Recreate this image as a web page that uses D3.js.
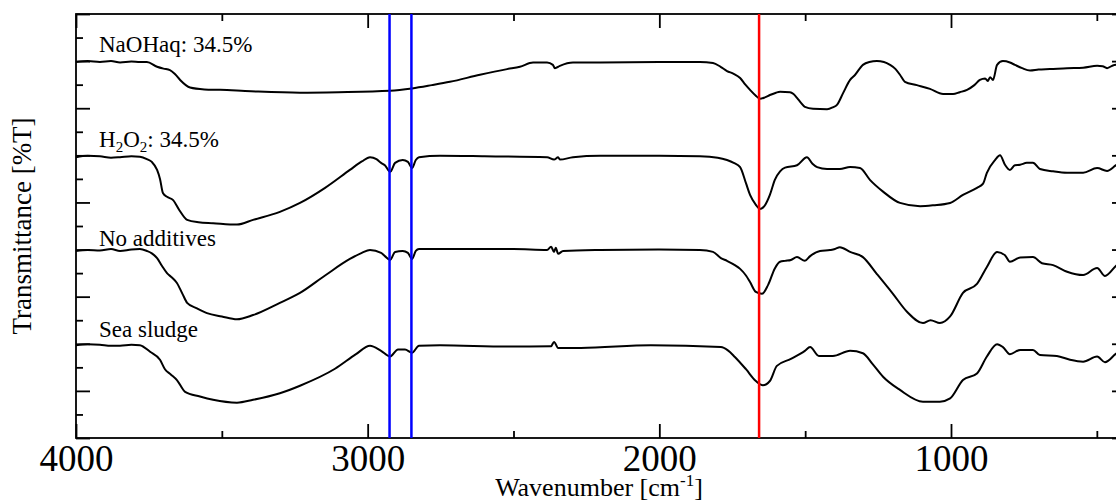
<!DOCTYPE html>
<html>
<head>
<meta charset="utf-8">
<script src="https://cdn.jsdelivr.net/npm/d3@7"></script>
<style>
  html, body { margin: 0; padding: 0; background: #fff; }
  svg { display: block; }
  svg text { font-family: "Liberation Serif", "Times New Roman", serif; }
</style>
</head>
<body>
<script>
// spectra: [wavenumber cm-1, transmittance (offset, a.u.)]
const naohaq = [
    [4000, 79.8], [3960, 80.0], [3918, 79.8], [3880, 80.0], [3849, 79.7], [3810, 79.9], [3781, 79.8],
    [3757, 79.8], [3722, 78.8], [3700, 78.4], [3678, 78.1], [3660, 77.2], [3643, 76.0], [3609, 74.4],
    [3560, 74.0], [3506, 73.9], [3400, 73.6], [3232, 73.3], [3100, 73.4], [2923, 73.7], [2848, 74.2],
    [2780, 74.9], [2718, 75.6], [2615, 77.1], [2522, 78.3], [2478, 78.8], [2433, 79.7], [2385, 79.7],
    [2365, 79.2], [2358, 78.5], [2341, 79.0], [2296, 79.7], [2203, 79.7], [2000, 79.8], [1861, 79.8],
    [1816, 79.6], [1790, 78.8], [1768, 77.9], [1745, 77.3], [1723, 76.4], [1705, 75.0], [1689, 73.9],
    [1670, 72.7], [1655, 72.0], [1638, 72.3], [1621, 72.8], [1600, 73.3], [1586, 73.5], [1552, 73.4],
    [1540, 73.0], [1528, 72.2], [1515, 71.2], [1501, 70.3], [1473, 69.9], [1425, 69.8], [1405, 70.2],
    [1391, 70.7], [1370, 73.2], [1346, 76.0], [1330, 77.0], [1302, 79.2], [1280, 79.8], [1254, 80.0],
    [1230, 79.8], [1209, 79.2], [1190, 78.3], [1175, 77.1], [1158, 75.6], [1117, 74.9], [1072, 74.1],
    [1027, 73.0], [993, 73.0], [970, 73.4], [945, 73.9], [920, 74.9], [901, 76.0], [883, 76.3],
    [874, 75.8], [866, 76.6], [856, 76.0], [842, 79.2], [822, 80.0], [798, 79.7], [781, 79.2],
    [756, 78.5], [729, 78.0], [700, 78.2], [661, 78.3], [602, 78.5], [547, 78.6], [499, 79.0],
    [480, 78.9], [465, 78.5], [440, 79.2], [400, 79.3]
]

const h2o2 = [
    [4000, 59.6], [3960, 59.9], [3918, 59.8], [3880, 59.5], [3849, 59.6], [3810, 59.8], [3781, 59.7],
    [3757, 59.2], [3740, 58.6], [3722, 56.9], [3712, 55.0], [3702, 52.0], [3688, 51.2], [3667, 50.5],
    [3645, 48.3], [3619, 46.3], [3580, 45.8], [3530, 45.6], [3448, 45.3], [3393, 46.3], [3301, 48.0],
    [3232, 49.9], [3146, 53.1], [3061, 56.9], [3020, 58.7], [2992, 59.6], [2970, 59.2], [2954, 58.4],
    [2941, 57.9], [2923, 56.5], [2906, 58.4], [2880, 59.0], [2862, 58.6], [2848, 57.3], [2835, 59.0],
    [2824, 59.6], [2752, 59.9], [2600, 59.8], [2385, 59.6], [2361, 59.1], [2347, 59.6], [2341, 59.1],
    [2296, 59.6], [2203, 59.9], [2000, 59.9], [1861, 59.8], [1800, 59.5], [1768, 59.0], [1745, 58.4],
    [1723, 57.5], [1703, 54.1], [1689, 51.6], [1669, 49.5], [1655, 48.6], [1640, 49.2], [1621, 51.6],
    [1604, 54.8], [1586, 56.6], [1569, 57.4], [1528, 57.9], [1494, 59.6], [1475, 58.2], [1459, 57.5],
    [1425, 57.1], [1381, 57.1], [1346, 57.5], [1312, 57.3], [1278, 54.8], [1233, 52.3], [1175, 49.9],
    [1106, 49.2], [1060, 49.4], [1003, 49.9], [959, 51.6], [911, 53.1], [890, 54.0], [877, 56.3],
    [849, 59.0], [832, 60.0], [815, 58.0], [798, 56.9], [781, 57.9], [763, 58.0], [740, 58.4],
    [719, 58.4], [695, 57.1], [650, 56.6], [602, 56.3], [547, 56.3], [499, 57.3], [465, 56.7],
    [431, 58.0], [400, 58.4]
]

const noAdditives = [
    [4000, 39.7], [3960, 39.9], [3918, 39.8], [3880, 40.1], [3849, 39.7], [3810, 40.0], [3781, 40.1],
    [3757, 39.7], [3740, 39.2], [3722, 38.2], [3705, 36.5], [3688, 35.0], [3670, 34.0], [3654, 32.9],
    [3635, 30.6], [3619, 28.7], [3585, 27.5], [3551, 26.5], [3500, 25.8], [3448, 25.2], [3393, 26.1],
    [3301, 28.7], [3232, 30.8], [3146, 34.5], [3061, 38.0], [3020, 39.3], [2992, 39.9], [2954, 39.3],
    [2941, 38.6], [2923, 37.8], [2906, 39.5], [2880, 39.7], [2862, 39.3], [2848, 38.0], [2835, 39.7],
    [2824, 40.1], [2752, 40.1], [2500, 40.1], [2385, 39.9], [2371, 40.6], [2361, 39.5], [2355, 40.4],
    [2347, 39.1], [2330, 39.7], [2203, 39.9], [2000, 40.0], [1861, 39.9], [1816, 39.5], [1789, 38.2],
    [1768, 37.6], [1741, 36.7], [1723, 35.9], [1703, 34.5], [1689, 33.1], [1669, 31.0], [1648, 30.6],
    [1627, 32.5], [1604, 36.0], [1586, 37.4], [1569, 37.6], [1549, 37.8], [1528, 38.4], [1501, 37.6],
    [1483, 38.6], [1449, 39.7], [1415, 39.9], [1398, 40.1], [1381, 40.5], [1346, 39.5], [1302, 38.4],
    [1254, 34.8], [1199, 30.6], [1151, 26.8], [1096, 24.4], [1070, 25.0], [1038, 24.4], [1003, 25.8],
    [959, 30.8], [911, 32.7], [877, 36.3], [842, 39.5], [815, 38.8], [798, 37.4], [763, 38.3],
    [719, 38.4], [688, 37.1], [650, 36.7], [602, 35.3], [547, 34.6], [499, 36.1], [472, 34.4],
    [431, 36.7], [400, 37.5]
]

const seaSludge = [
    [4000, 19.7], [3960, 19.9], [3918, 19.8], [3880, 19.6], [3849, 19.6], [3810, 19.8], [3781, 19.7],
    [3746, 18.3], [3712, 16.6], [3695, 14.6], [3675, 13.5], [3654, 12.3], [3626, 9.8], [3575, 8.8],
    [3530, 8.1], [3448, 7.5], [3393, 8.1], [3301, 9.5], [3232, 11.1], [3112, 14.7], [3040, 17.8],
    [2992, 19.6], [2954, 18.5], [2923, 17.3], [2896, 18.8], [2872, 18.8], [2848, 18.1], [2824, 19.6],
    [2752, 19.7], [2522, 19.4], [2371, 19.5], [2361, 20.4], [2347, 19.1], [2269, 19.1], [2029, 19.7],
    [1789, 19.3], [1765, 18.6], [1741, 17.2], [1703, 14.6], [1669, 12.1], [1645, 11.2], [1621, 12.1],
    [1597, 15.3], [1549, 16.8], [1501, 18.5], [1483, 19.3], [1453, 17.4], [1405, 17.4], [1346, 18.5],
    [1302, 18.0], [1270, 15.8], [1233, 13.0], [1175, 10.2], [1096, 7.7], [1038, 7.7], [1003, 8.4],
    [959, 12.3], [911, 13.7], [877, 17.3], [842, 19.9], [822, 19.3], [798, 17.8], [763, 18.7],
    [719, 18.7], [695, 17.6], [637, 17.4], [592, 16.6], [547, 16.2], [499, 17.3], [472, 16.1],
    [431, 18.0], [400, 18.5]
]

const series = [naohaq, h2o2, noAdditives, seaSludge]
const seriesLabels = ["NaOHaq: 34.5%", "H2O2: 34.5%", "No additives", "Sea sludge"]

// marker lines (cm-1)
const blueLines = [2925, 2850]
const redLines = [1658]

const xLabels = [4000, 3000, 2000, 1000]
const xMinor = [3500, 2500, 1500, 500]

/*====================================================
   layout
====================================================*/
const width = 1116
const height = 502
const marginLeft = 76
const plotRight = 1126 // right frame sits just outside the window
const marginTop = 14
const plotBottom = 438
const labelOffsets = [10, 10, 5, 8]

const svg = d3.select("body").append("svg")
    .attr("width", width)
    .attr("height", height)
    .attr("viewBox", [0, 0, width, height])

const xScale = d3.scaleLinear().domain([4000, 400]).range([marginLeft, plotRight])
const yScale = d3.scaleLinear().domain([0, 90]).range([plotBottom, marginTop])

const yMajor = d3.range(0, 91, 10)
const yMinor = d3.range(5, 90, 10)

// bottom axis, ticks pointing in
svg.append("g")
    .attr("transform", `translate(0,${plotBottom})`)
    .call(d3.axisBottom(xScale).tickValues(xLabels).tickFormat(d3.format("d"))
        .tickSize(-14).tickPadding(7).tickSizeOuter(0))
    .call(g => g.select(".domain").remove())
    .call(g => g.attr("font-family", null))
    .call(g => g.selectAll("text").attr("font-size", 37).attr("fill", "#000"))

svg.append("g")
    .attr("transform", `translate(0,${plotBottom})`)
    .call(d3.axisBottom(xScale).tickValues(xMinor).tickSize(-7).tickFormat("").tickSizeOuter(0))
    .call(g => g.select(".domain").remove())

// top axis
svg.append("g")
    .attr("transform", `translate(0,${marginTop})`)
    .call(d3.axisTop(xScale).tickValues(xLabels).tickSize(-14).tickFormat("").tickSizeOuter(0))
    .call(g => g.select(".domain").remove())

svg.append("g")
    .attr("transform", `translate(0,${marginTop})`)
    .call(d3.axisTop(xScale).tickValues(xMinor).tickSize(-7).tickFormat("").tickSizeOuter(0))
    .call(g => g.select(".domain").remove())

// left + right axes, no labels
;[[d3.axisLeft, marginLeft], [d3.axisRight, plotRight]].forEach(([ax, pos]) => {
    svg.append("g")
        .attr("transform", `translate(${pos},0)`)
        .call(ax(yScale).tickValues(yMajor).tickSize(-14).tickFormat("").tickSizeOuter(0))
        .call(g => g.select(".domain").remove())
    svg.append("g")
        .attr("transform", `translate(${pos},0)`)
        .call(ax(yScale).tickValues(yMinor).tickSize(-7).tickFormat("").tickSizeOuter(0))
        .call(g => g.select(".domain").remove())
})

svg.selectAll(".tick line").attr("stroke", "#000").attr("stroke-width", 1.8)

// frame
svg.append("rect")
    .attr("x", marginLeft)
    .attr("y", marginTop)
    .attr("width", plotRight - marginLeft)
    .attr("height", plotBottom - marginTop)
    .attr("fill", "none")
    .attr("stroke", "#000")
    .attr("stroke-width", 1.8)

// spectra
const line = d3.line()
    .x(d => xScale(d[0]))
    .y(d => yScale(d[1]))
    .curve(d3.curveMonotoneX)

svg.append("g")
    .selectAll("path")
    .data(series)
    .join("path")
    .attr("d", line)
    .attr("fill", "none")
    .attr("stroke", "#000")
    .attr("stroke-width", 2)
    .attr("stroke-linejoin", "round")

// marker lines on top of the spectra
svg.append("g")
    .selectAll("line")
    .data(blueLines.map(v => [v, "#0000ff"]).concat(redLines.map(v => [v, "#ff0000"])))
    .join("line")
    .attr("x1", d => xScale(d[0]))
    .attr("x2", d => xScale(d[0]))
    .attr("y1", marginTop)
    .attr("y2", plotBottom)
    .attr("stroke", d => d[1])
    .attr("stroke-width", 2.5)

// series labels (H2O2 needs subscripts)
const labels = svg.append("g")
    .attr("font-size", 23)
    .attr("fill", "#000")
    .selectAll("text")
    .data(seriesLabels)
    .join("text")
    .attr("x", 99)
    .attr("y", (d, i) => yScale(series[i][0][1]) - labelOffsets[i])

labels.each(function (d) {
    const t = d3.select(this)
    if (d.startsWith("H2O2")) {
        t.append("tspan").text("H")
        t.append("tspan").attr("dy", 5).attr("font-size", 15).text("2")
        t.append("tspan").attr("dy", -5).text("O")
        t.append("tspan").attr("dy", 5).attr("font-size", 15).text("2")
        t.append("tspan").attr("dy", -5).text(d.substring(4))
    } else {
        t.text(d)
    }
})

// axis titles
const xTitle = svg.append("text")
    .attr("x", 599)
    .attr("y", 496)
    .attr("text-anchor", "middle")
    .attr("font-size", 26)
    .attr("fill", "#000")
xTitle.append("tspan").text("Wavenumber [cm")
xTitle.append("tspan").attr("dy", -10).attr("font-size", 17).text("-1")
xTitle.append("tspan").attr("dy", 10).text("]")

svg.append("text")
    .attr("transform", "translate(31,226) rotate(-90)")
    .attr("text-anchor", "middle")
    .attr("font-size", 27)
    .attr("fill", "#000")
    .text("Transmittance [%T]")
</script>
</body>
</html>
